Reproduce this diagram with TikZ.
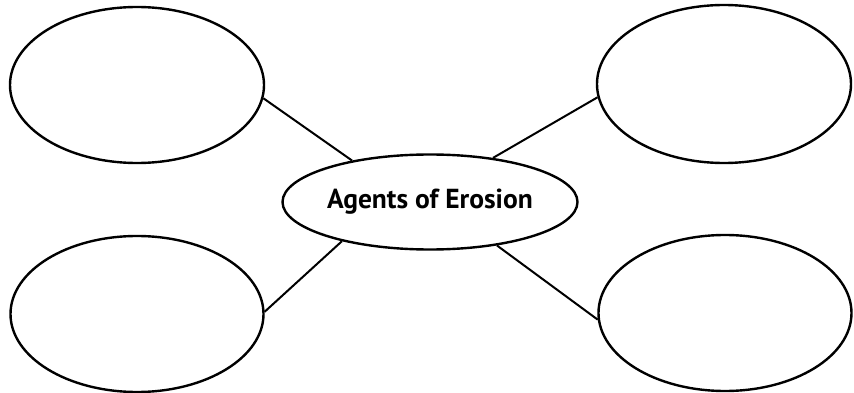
\documentclass[tikz,border=0pt]{standalone}
\usepackage{fontspec}
\setmainfont{PT Sans}
\usetikzlibrary{shapes.geometric}
\begin{document}
\begin{tikzpicture}[x=1pt,y=-1pt,
  bubble/.style={draw, ellipse, line width=2.4pt, inner sep=0pt},
  link/.style={line width=2pt}]
\useasboundingbox (0,0) rectangle (854,393);
\node[bubble, minimum width=254pt, minimum height=156pt] (tl) at (137,85) {};
\node[bubble, minimum width=254pt, minimum height=158pt] (tr) at (724,84) {};
\node[bubble, minimum width=253pt, minimum height=156pt] (bl) at (137,314) {};
\node[bubble, minimum width=253pt, minimum height=156pt] (br) at (725,313) {};
\node[bubble, minimum width=295pt, minimum height=95pt, font=\fontsize{27.5}{30}\selectfont\bfseries] (c) at (430,202) {Agents of Erosion};
\draw[link] (tl.-6.8) -- (c.152.6);
\draw[link] (tr.186.8) -- (c.35);
\draw[link] (bl.1.4) -- (c.204.6);
\draw[link] (br.183.7) -- (c.-33);
\end{tikzpicture}
\end{document}
